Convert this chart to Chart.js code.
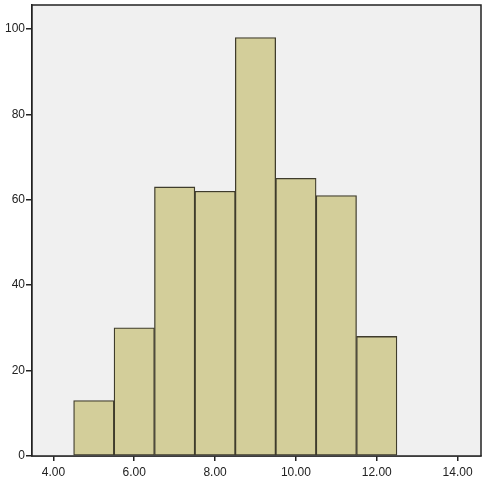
<!DOCTYPE html>
<html>
<head>
<meta charset="utf-8">
<script src="https://cdn.jsdelivr.net/npm/chart.js@4.4.1/dist/chart.umd.min.js"></script>
<style>
html,body{margin:0;padding:0;background:#fff;}
#wrap{width:484px;height:480px;}
</style>
</head>
<body>
<div id="wrap"><canvas id="c" width="484" height="480"></canvas></div>
<script>
const binCenters = [5, 6, 7, 8, 9, 10, 11, 12];
const counts = [13, 30, 63, 62, 98, 65, 61, 28];
const xTickValues = [4, 6, 8, 10, 12, 14];
const yTickValues = [0, 20, 40, 60, 80, 100];

const frame = {
  id: 'frame',
  beforeDatasetsDraw(chart) {
    const a = chart.chartArea, ctx = chart.ctx;
    ctx.save();
    ctx.fillStyle = '#f0f0f0';
    ctx.fillRect(a.left, a.top, a.right - a.left, a.bottom - a.top);
    ctx.restore();
  },
  afterDatasetsDraw(chart) {
    const a = chart.chartArea, ctx = chart.ctx;
    ctx.save();
    ctx.strokeStyle = '#222';
    ctx.lineWidth = 1.5;
    ctx.strokeRect(a.left, a.top, a.right - a.left, a.bottom - a.top);
    ctx.restore();
  }
};

function noPad(axis) {
  axis.paddingTop = 0; axis.paddingBottom = 0;
  axis.paddingLeft = 0; axis.paddingRight = 0;
}

new Chart(document.getElementById('c'), {
  type: 'bar',
  data: {
    datasets: [{
      data: binCenters.map((x, i) => ({x: x, y: counts[i]})),
      backgroundColor: 'rgb(211,206,154)',
      borderColor: '#3f3c2c',
      borderWidth: 1.3,
      borderSkipped: false,
      barPercentage: 1,
      categoryPercentage: 1
    }]
  },
  options: {
    responsive: false,
    animation: false,
    layout: {padding: {top: 5, right: 3, left: 0, bottom: 0}},
    plugins: {legend: {display: false}, tooltip: {enabled: false}},
    scales: {
      x: {
        type: 'linear',
        offset: false,
        min: 3.47,
        max: 14.58,
        afterBuildTicks(axis) { axis.ticks = xTickValues.map(v => ({value: v})); },
        afterFit(axis) { axis.height = 24; noPad(axis); },
        ticks: {
          includeBounds: false,
          color: '#222',
          font: {family: 'Liberation Sans, Arial, sans-serif', size: 12},
          padding: 4,
          maxRotation: 0,
          callback: v => Number(v).toFixed(2)
        },
        grid: {offset: false, drawOnChartArea: false, drawTicks: true, tickLength: 5, color: '#222', lineWidth: 1.5},
        border: {color: '#222', width: 1.5}
      },
      y: {
        min: 0,
        max: 105.6,
        afterBuildTicks(axis) { axis.ticks = yTickValues.map(v => ({value: v})); },
        afterFit(axis) { axis.width = 32; noPad(axis); },
        ticks: {
          includeBounds: false,
          color: '#222',
          font: {family: 'Liberation Sans, Arial, sans-serif', size: 12},
          padding: 1
        },
        grid: {drawOnChartArea: false, drawTicks: true, tickLength: 6, color: '#222', lineWidth: 1.5},
        border: {color: '#222', width: 1.5}
      }
    }
  },
  plugins: [frame]
});
</script>
</body>
</html>
